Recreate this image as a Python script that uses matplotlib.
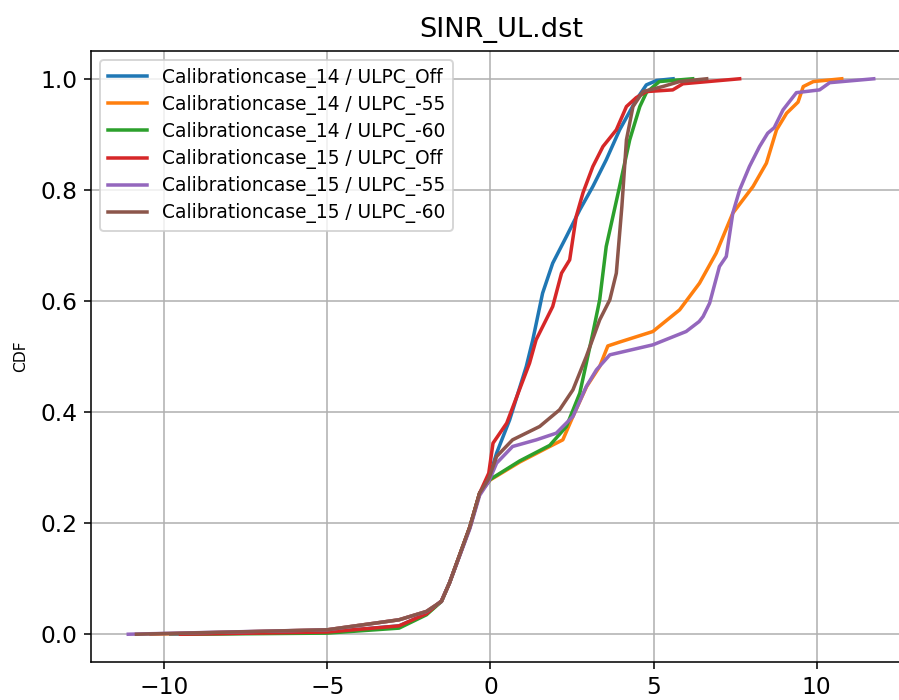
import matplotlib
matplotlib.use("Agg")
from matplotlib import pyplot as plt

# CDF curves (SINR in dB, cumulative probability)
x_c14_off = [-9.8, -5, -2.8, -1.96, -1.5, -1.25, -0.63, -0.33, -0.05, 0.19, 0.59, 1.1, 1.3, 1.6,
             1.91, 2.33, 2.74, 3.14, 3.55, 3.96, 4.47, 4.78, 5.1, 5.6]
y_c14_off = [0, 0.004, 0.015, 0.037, 0.06, 0.093, 0.193, 0.254, 0.28, 0.326, 0.386, 0.482, 0.53, 0.614,
             0.668, 0.716, 0.764, 0.806, 0.854, 0.908, 0.962, 0.989, 0.997, 1.0]

x_c14_55 = [-10.4, -5, -2.8, -1.96, -1.5, -1.25, -0.63, -0.33, -0.05, 0.0, 0.9, 1.82, 2.22, 2.53,
            2.95, 3.35, 3.6, 3.96, 4.98, 5.8, 6.41, 6.92, 7.43, 8.05, 8.46, 8.77, 9.08, 9.43,
            9.59, 9.9, 10.77]
y_c14_55 = [0, 0.008, 0.026, 0.041, 0.059, 0.093, 0.193, 0.254, 0.275, 0.278, 0.31, 0.338, 0.35, 0.392,
            0.446, 0.482, 0.519, 0.526, 0.545, 0.584, 0.632, 0.686, 0.758, 0.806, 0.848, 0.908, 0.938, 0.958,
            0.986, 0.995, 1.0]

x_c14_60 = [-9.4, -5, -2.8, -1.96, -1.5, -1.25, -0.63, -0.33, -0.05, 0.0, 0.9, 1.82, 2.33, 2.74,
            3.14, 3.35, 3.55, 3.96, 4.27, 4.58, 4.78, 5.18, 6.2]
y_c14_60 = [0, 0.002, 0.011, 0.035, 0.059, 0.093, 0.193, 0.254, 0.275, 0.279, 0.312, 0.34, 0.374, 0.434,
            0.542, 0.602, 0.698, 0.806, 0.89, 0.95, 0.975, 0.995, 1.0]

x_c15_off = [-9.5, -5, -2.8, -1.96, -1.5, -1.25, -0.63, -0.33, -0.05, 0.08, 0.5, 1.2, 1.4, 1.91,
             2.18, 2.43, 2.63, 2.84, 3.14, 3.45, 3.86, 4.17, 4.47, 4.78, 5.59, 5.9, 7.64]
y_c15_off = [0, 0.004, 0.015, 0.037, 0.06, 0.093, 0.193, 0.254, 0.29, 0.344, 0.38, 0.488, 0.53, 0.59,
             0.65, 0.674, 0.752, 0.795, 0.842, 0.878, 0.908, 0.95, 0.966, 0.977, 0.98, 0.991, 1.0]

x_c15_55 = [-11.1, -5, -2.8, -1.96, -1.5, -1.25, -0.63, -0.33, -0.05, 0.19, 0.68, 1.41, 2.02, 2.53,
            2.94, 3.25, 3.66, 4.98, 6.0, 6.4, 6.52, 6.72, 7.02, 7.23, 7.43, 7.64, 7.94, 8.25,
            8.5, 8.7, 8.97, 9.38, 10.09, 10.4, 11.75]
y_c15_55 = [0, 0.008, 0.026, 0.041, 0.059, 0.093, 0.19, 0.25, 0.275, 0.308, 0.338, 0.35, 0.362, 0.392,
            0.446, 0.476, 0.503, 0.521, 0.545, 0.563, 0.572, 0.596, 0.662, 0.68, 0.758, 0.8, 0.842, 0.878,
            0.902, 0.912, 0.944, 0.975, 0.98, 0.993, 1.0]

x_c15_60 = [-10.85, -5, -2.8, -1.96, -1.5, -1.25, -0.63, -0.33, -0.05, 0.19, 0.68, 1.51, 2.12, 2.53,
            2.94, 3.35, 3.66, 3.86, 4.03, 4.17, 4.37, 4.68, 5.28, 5.8, 6.63]
y_c15_60 = [0, 0.008, 0.026, 0.041, 0.059, 0.093, 0.193, 0.254, 0.28, 0.32, 0.35, 0.374, 0.404, 0.44,
            0.5, 0.566, 0.602, 0.65, 0.77, 0.89, 0.95, 0.977, 0.986, 0.995, 1.0]

labels = [
    "Calibrationcase_14 / ULPC_Off",
    "Calibrationcase_14 / ULPC_-55",
    "Calibrationcase_14 / ULPC_-60",
    "Calibrationcase_15 / ULPC_Off",
    "Calibrationcase_15 / ULPC_-55",
    "Calibrationcase_15 / ULPC_-60",
]
series = [
    (x_c14_off, y_c14_off),
    (x_c14_55, y_c14_55),
    (x_c14_60, y_c14_60),
    (x_c15_off, y_c15_off),
    (x_c15_55, y_c15_55),
    (x_c15_60, y_c15_60),
]

fig = plt.figure(figsize=(899 / 140, 700 / 140), dpi=140)
# axes runs a little past the right edge, like the cropped original
ax = fig.add_axes([91 / 899, 38 / 700, 820 / 899, 611 / 700])

for (xs, ys), lab in zip(series, labels):
    ax.plot(xs, ys, linewidth=1.8, label=lab)

ax.set_title("SINR_UL.dst", fontsize=14, pad=7)
ax.set_ylabel("CDF", fontsize=8, labelpad=6)
ax.set_yticks([0.0, 0.2, 0.4, 0.6, 0.8, 1.0])
ax.tick_params(labelsize=12)
ax.grid(True)
ax.legend(loc="upper left", fontsize=9.6, labelspacing=0.38, handlelength=2.1)

fig.savefig("out.png", dpi=140)
